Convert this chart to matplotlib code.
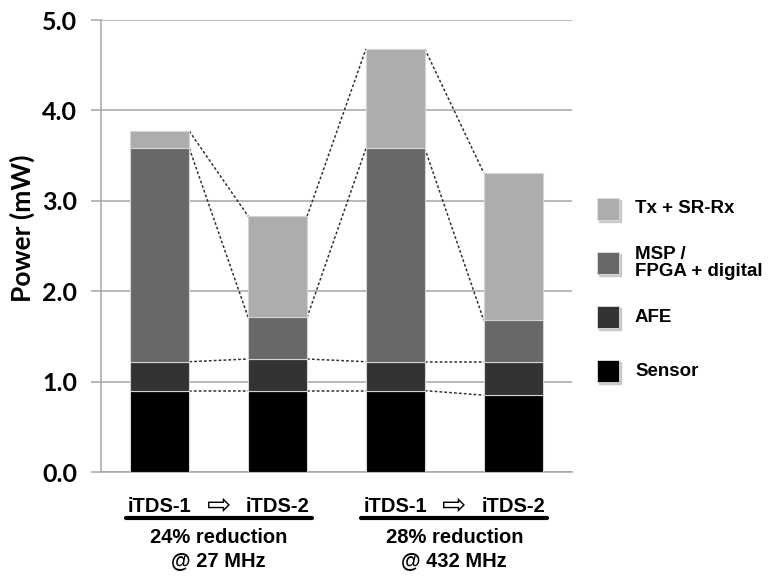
# Consumo de potencia por componente (iTDS-1 vs iTDS-2), barras apiladas
import numpy as np
import matplotlib.pyplot as plt
from matplotlib.patches import Rectangle

# datos (mW)
barras = ['iTDS-1', 'iTDS-2', 'iTDS-1', 'iTDS-2']
sensor = [0.90, 0.90, 0.90, 0.85]
afe = [0.32, 0.35, 0.32, 0.37]
msp = [2.36, 0.46, 2.36, 0.46]
tx = [0.19, 1.12, 1.10, 1.63]
componentes = ['Sensor', 'AFE', 'MSP /\nFPGA + digital', 'Tx + SR-Rx']
colores = ['#000000', '#333333', '#686868', '#adadad']
grupos = ['24% reduction', '28% reduction']
frecuencias = ['@ 27 MHz', '@ 432 MHz']
yticks = [0, 1, 2, 3, 4, 5]

fuente_num = ['Lato', 'DejaVu Sans']
fuente_txt = ['Liberation Sans', 'DejaVu Sans']

fig = plt.figure(figsize=(7.73, 5.83), dpi=100)
ax = fig.add_axes([101 / 773, 1 - 472 / 583, 471 / 773, 452 / 583])

x = np.arange(len(barras))
ancho = 0.5
capas = [sensor, afe, msp, tx]
base = np.zeros(len(barras))
niveles = []
for vals, col in zip(capas, colores):
    vals = np.array(vals)
    ax.bar(x, vals, ancho, bottom=base, color=col, edgecolor='#d4d4d4', linewidth=0.8, zorder=3)
    base = base + vals
    niveles.append(base.copy())

# líneas de serie entre barras vecinas
for nivel in niveles:
    for i in range(len(barras) - 1):
        ax.plot([x[i] + ancho / 2, x[i + 1] - ancho / 2], [nivel[i], nivel[i + 1]],
                color='#333333', linewidth=1.1, linestyle=(0, (1.8, 1.4)), zorder=2)

ax.set_xlim(-0.5, len(barras) - 0.5)
ax.set_ylim(0, 5)
ax.set_yticks(yticks)
ax.set_yticklabels([f'{v:.1f}' for v in yticks], fontsize=18, fontweight='bold', family=fuente_num)
ax.set_xticks([])
ax.yaxis.grid(True, color='#a6a6a6', linewidth=1.1, zorder=0)
ax.set_axisbelow(True)
ax.tick_params(axis='y', length=7, width=1.1, color='#a6a6a6', pad=10)
for s in ['top', 'right']:
    ax.spines[s].set_visible(False)
for s in ['left', 'bottom']:
    ax.spines[s].set_color('#a6a6a6')
    ax.spines[s].set_linewidth(1.1)

ax.set_ylabel('Power (mW)', fontsize=19, fontweight='bold', family=fuente_num, va='center')
ax.yaxis.set_label_coords(-0.166, 0.54)

# etiquetas de los grupos bajo el eje
trans = ax.get_xaxis_transform()
for g in range(len(grupos)):
    a, b = x[2 * g], x[2 * g + 1]
    ax.text(a, -0.077, barras[2 * g], transform=trans, ha='center', va='center',
            fontsize=14.5, fontweight='bold', family=fuente_txt)
    ax.text(b, -0.077, barras[2 * g + 1], transform=trans, ha='center', va='center',
            fontsize=14.5, fontweight='bold', family=fuente_txt)
    ax.text((a + b) / 2, -0.074, '\u21e8', transform=trans, ha='center', va='center',
            fontsize=21, family=['DejaVu Sans'])
    ax.plot([(a + b) / 2 - 0.79, (a + b) / 2 + 0.79], [-0.1018, -0.1018], transform=trans,
            color='black', linewidth=3, clip_on=False, solid_capstyle='round')
    ax.text((a + b) / 2, -0.146, grupos[g], transform=trans, ha='center', va='center',
            fontsize=14.5, fontweight='bold', family=fuente_txt)
    ax.text((a + b) / 2, -0.196, frecuencias[g], transform=trans, ha='center', va='center',
            fontsize=14.5, fontweight='bold', family=fuente_txt)

# leyenda manual (de arriba hacia abajo: Tx, MSP, AFE, Sensor)
W, H = 773, 583
for k, (nombre, col) in enumerate(zip(componentes[::-1], colores[::-1])):
    yc = 209 + 54 * k
    fig.patches.append(Rectangle(((597 + 2) / W, 1 - (yc + 11 + 2) / H), 22 / W, 22 / H,
                                 transform=fig.transFigure, color='#c8c8c8', zorder=1))
    fig.patches.append(Rectangle((597 / W, 1 - (yc + 11) / H), 22 / W, 22 / H,
                                 transform=fig.transFigure, facecolor=col,
                                 edgecolor='#e0e0e0', linewidth=0.6, zorder=2))
    fig.text(635 / W, 1 - yc / H, nombre, ha='left', va='center', fontsize=13.5,
             fontweight='bold', family=['Liberation Sans', 'DejaVu Sans'], linespacing=1.05)

plt.savefig('out.png', dpi=100)
